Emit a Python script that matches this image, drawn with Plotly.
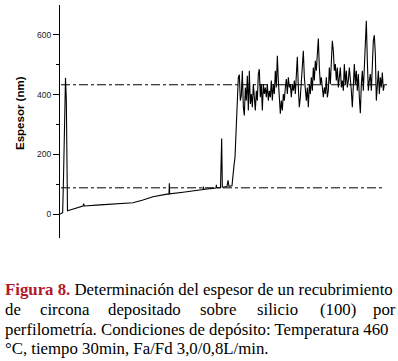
import plotly.graph_objects as go

# ---- data (profile: distance in arbitrary units, thickness in nm) ----
start_x = [0, 8, 10.5, 13.5, 16.5, 19, 22.5, 30, 50, 69, 71, 73, 120, 180, 219, 249,
           279, 321, 327, 328, 329, 375, 420, 429, 430, 431, 468, 469, 470, 481.5,
           483, 485, 487, 501, 504, 507, 516, 519, 522, 525, 528, 530, 532.5]
start_y = [0, 5, 120, 280, 456, 380, 11, 14, 22, 27, 35, 27, 31, 34, 38, 47,
           58, 67, 67, 103, 68, 74, 80, 82, 92, 83, 87, 98, 88, 88,
           253, 253, 90, 92, 113, 93, 95, 140, 163, 190, 280, 347, 413]

noisy_x = list(range(535, 974, 3))
noisy_y = [458, 467, 380, 397, 480, 358, 330, 424, 380, 463, 347, 480, 369, 402, 358,
           435, 391, 347, 413, 380, 469, 485, 391, 435, 347, 435, 402, 424, 391, 435,
           380, 413, 391, 447, 380, 435, 402, 480, 424, 530, 447, 369, 336, 380, 347,
           402, 380, 424, 452, 402, 458, 424, 435, 391, 435, 413, 447, 402, 491, 527,
           424, 358, 391, 447, 491, 547, 458, 402, 380, 424, 358, 435, 402, 458, 413,
           491, 447, 513, 480, 535, 588, 491, 435, 458, 413, 391, 424, 402, 458, 391,
           413, 491, 435, 535, 580, 547, 480, 502, 447, 491, 424, 458, 491, 424, 447,
           413, 502, 435, 480, 424, 447, 491, 458, 413, 358, 458, 502, 435, 480, 413,
           469, 391, 338, 435, 480, 413, 491, 580, 647, 513, 413, 447, 469, 413, 491,
           580, 599, 535, 380, 424, 480, 402, 458, 424, 474, 413, 435]

profile_x = start_x + noisy_x
profile_y = start_y + noisy_y

upper_level = 433
lower_level = 88
upper_span = [3, 981]
lower_span = [3, 975]

y_ticks = [0, 200, 400, 600]

caption_line1 = '<span style="color:#B0182E"><b>Figura 8.</b></span> Determinación del espesor de un recubrimiento'
line2_words = ["de", "circona", "depositado", "sobre", "silicio", "(100)", "por"]
line2_px = [5, 40, 108, 200, 257, 320, 373]
line3_text = "perfilometría. Condiciones de depósito: Temperatura 460"
line4_text = "°C, tiempo 30min, Fa/Fd 3,0/0,8L/min."

# ---- figure ----
fig = go.Figure()
fig.add_trace(go.Scatter(x=upper_span, y=[upper_level, upper_level], mode="lines",
                         line=dict(color="black", width=1, dash="dashdot"),
                         hoverinfo="skip"))
fig.add_trace(go.Scatter(x=lower_span, y=[lower_level, lower_level], mode="lines",
                         line=dict(color="black", width=1, dash="dashdot"),
                         hoverinfo="skip"))
fig.add_trace(go.Scatter(x=profile_x, y=profile_y, mode="lines",
                         line=dict(color="black", width=1.1)))

L, R, T, B = 60, 8, 5, 123
W, H = 398, 361
pw, ph = W - L - R, H - T - B


def px2paper(px, py):
    return (px - L) / pw, (H - B - py) / ph


annotations = []
serif = dict(family="Liberation Serif", size=16.8, color="black")
ax, ay = px2paper(20, 113)
annotations.append(dict(text="<b>Espesor (nm)</b>", x=ax, y=ay, xref="paper", yref="paper",
                        textangle=-90, showarrow=False, xanchor="center", yanchor="middle",
                        font=dict(family="Liberation Sans", size=11.5, color="black")))
cx, cy = px2paper(3, 289)
annotations.append(dict(text=caption_line1, x=cx, y=cy, xref="paper", yref="paper",
                        showarrow=False, xanchor="left", yanchor="middle", font=serif))
for w, p in zip(line2_words, line2_px):
    wx, wy = px2paper(p - 2, 309)
    annotations.append(dict(text=w, x=wx, y=wy, xref="paper", yref="paper",
                            showarrow=False, xanchor="left", yanchor="middle", font=serif))
cx, cy = px2paper(3, 329)
annotations.append(dict(text=line3_text, x=cx, y=cy, xref="paper", yref="paper",
                        showarrow=False, xanchor="left", yanchor="middle", font=serif))
cx, cy = px2paper(3, 348)
annotations.append(dict(text=line4_text, x=cx, y=cy, xref="paper", yref="paper",
                        showarrow=False, xanchor="left", yanchor="middle", font=serif))

fig.update_layout(
    width=W, height=H,
    margin=dict(l=L, r=R, t=T, b=B, pad=0),
    paper_bgcolor="white", plot_bgcolor="white",
    showlegend=False,
    annotations=annotations,
    xaxis=dict(visible=False, range=[0, 990]),
    yaxis=dict(range=[-80, 700], tickvals=y_ticks, ticks="outside", ticklen=6,
               tickcolor="black", tickwidth=1, showline=True, linecolor="black",
               linewidth=1, showgrid=False, zeroline=False,
               tickfont=dict(family="Liberation Sans", size=8.5, color="#222"),
               minor=dict(tickvals=[100, 300, 500], ticks="outside", ticklen=3,
                          tickcolor="black", showgrid=False)),
)

fig.write_html("out.html", config={"displayModeBar": False},
               post_script="document.body.style.margin='0px';")
